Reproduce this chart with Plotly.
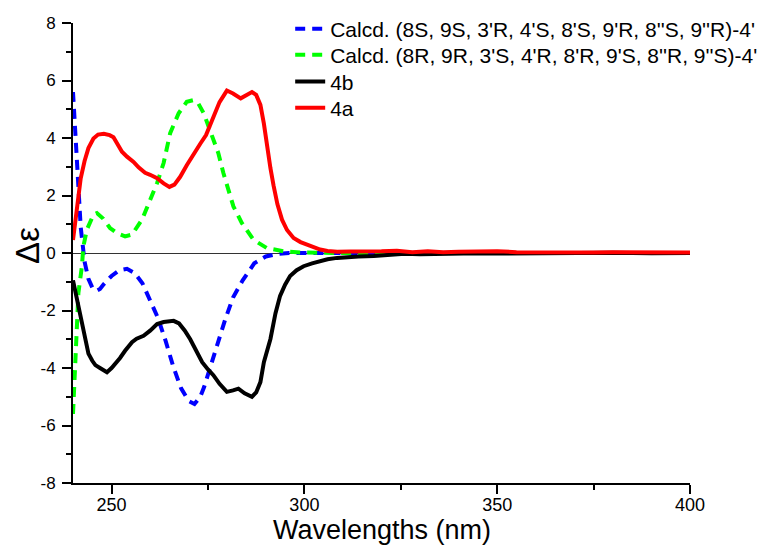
import plotly.graph_objects as go

# Calcd. (8S, 9S, ...) - blue dashed
blue_x = [240, 240.5, 241, 241.5, 242, 243, 244, 245, 246, 247, 248, 250, 252, 254, 256, 258, 260, 262, 264, 266,
          268, 270, 271.5, 273, 274, 275.5, 277, 279.5, 281.5, 284, 287, 290, 293, 296, 300, 320, 350, 400]
blue_y = [5.6, 4.3, 3.0, 1.9, 0.9, -0.3, -0.9, -1.2, -1.32, -1.25, -1.08, -0.8, -0.6, -0.55, -0.7, -1.05, -1.67, -2.25,
          -3.05, -3.95, -4.7, -5.15, -5.25, -5.0, -4.66, -4.0, -3.3, -2.3, -1.55, -0.95, -0.36, -0.12, -0.03, 0.0, 0.0,
          0.0, 0.0, 0.0]

# Calcd. (8R, 9R, ...) - green dashed
green_x = [240, 240.6, 241, 241.4, 242.3, 242.7, 243.6, 245.3, 246.2, 247.8, 249.6, 251.5, 253.5, 255.3, 257.9, 260,
           261.8, 263.5, 265.2, 267.4, 269.5, 271.3, 272.5, 273.9, 276.0, 277.7, 279.0, 280.3, 281.6, 283.8, 286.8,
           290.3, 294.6, 299, 310, 350, 400]
green_y = [-5.6, -3.94, -2.2, -1.39, -0.47, 0.23, 0.81, 1.33, 1.39, 1.2, 0.87, 0.68, 0.58, 0.64, 1.16, 1.85, 2.43, 3.13,
           4.17, 4.86, 5.26, 5.32, 5.2, 4.86, 4.05, 3.47, 2.78, 2.2, 1.62, 1.04, 0.46, 0.17, 0.06, 0.02, 0.0, 0.0, 0.0]

# 4b - black solid
black_x = [240, 241, 242, 243, 244, 245, 245.8, 247, 248, 248.8, 250, 251, 252.2, 253.5, 255.3, 256.5, 258.3, 260,
           261.8, 263.5, 266.1, 267.5, 269, 270.4, 272, 273.5, 275, 276.4, 278, 279.9, 281.5, 282.9, 284.5, 286.4,
           287.5, 288.6, 289.5, 291.2, 292.5, 293.7, 295, 296.3, 298, 299.8, 302, 304.1, 306, 308.5, 310, 314, 318,
           322, 326, 330, 335, 340, 345, 350, 355, 360, 370, 380, 390, 400]
black_y = [-0.95, -1.6, -2.25, -2.95, -3.5, -3.75, -3.9, -4.0, -4.1, -4.15, -4.0, -3.85, -3.65, -3.4, -3.1, -2.98,
           -2.88, -2.7, -2.47, -2.4, -2.36, -2.45, -2.7, -3.0, -3.4, -3.8, -4.05, -4.25, -4.55, -4.83, -4.78, -4.72,
           -4.88, -5.0, -4.85, -4.49, -3.8, -2.99, -2.1, -1.49, -1.1, -0.8, -0.6, -0.46, -0.36, -0.28, -0.22, -0.17,
           -0.15, -0.12, -0.1, -0.06, -0.03, -0.04, -0.02, -0.03, -0.01, -0.02, -0.01, 0.0, -0.01, 0.01, -0.01, 0.0]

# 4a - red solid
red_x = [240, 241, 242, 243, 244, 245.3, 246.5, 248, 249.5, 250.5, 251.5, 252.7, 254, 255.7, 257, 258.7, 260, 261.8,
         263.5, 265, 266.3, 267.8, 269.5, 271.3, 273, 274.5, 276.4, 278, 279.9, 281.5, 283.5, 285, 286.4, 287.5,
         288.6, 289.5, 290.3, 291.2, 292, 293, 294.2, 295.5, 297.2, 299, 300.7, 302.5, 304.1, 306, 308.5, 312, 316,
         320, 324, 328, 332, 336, 340, 345, 350, 355, 360, 365, 370, 375, 380, 385, 390, 395, 400]
red_y = [0.45, 1.5, 2.6, 3.2, 3.65, 3.98, 4.12, 4.15, 4.1, 4.03, 3.8, 3.52, 3.35, 3.17, 2.98, 2.79, 2.72, 2.6, 2.42,
         2.3, 2.38, 2.65, 3.05, 3.46, 3.8, 4.1, 4.75, 5.25, 5.65, 5.55, 5.38, 5.5, 5.6, 5.5, 5.15, 4.5, 3.7, 2.95,
         2.35, 1.7, 1.16, 0.8, 0.52, 0.38, 0.29, 0.2, 0.12, 0.07, 0.04, 0.05, 0.04, 0.06, 0.08, 0.03, 0.06, 0.03,
         0.04, 0.05, 0.06, 0.03, 0.02, 0.02, 0.0, 0.02, 0.03, 0.02, 0.04, 0.02, 0.02]

names = ["Calcd. (8S, 9S, 3'R, 4'S, 8'S, 9'R, 8''S, 9''R)-4'",
         "Calcd. (8R, 9R, 3'S, 4'R, 8'R, 9'S, 8''R, 9''S)-4'",
         "4b", "4a"]

x_ticks = [250, 300, 350, 400]
x_ticktext = ["250", "300", "350", "400"]
y_ticks = [-8, -6, -4, -2, 0, 2, 4, 6, 8]
y_ticktext = ["-8", "-6", "-4", "-2", "0", "2", "4", "6", "8"]

x_title = "Wavelengths (nm)"
y_title = "Δε"

font_family = "Arial, Liberation Sans, sans-serif"

fig = go.Figure()
fig.add_trace(go.Scatter(x=blue_x, y=blue_y, mode="lines", name=names[0], legend="legend",
                         line=dict(color="#0000FF", width=4, dash="10px,7px")))
fig.add_trace(go.Scatter(x=green_x, y=green_y, mode="lines", name=names[1], legend="legend2",
                         line=dict(color="#00FF00", width=4, dash="10px,7px")))
fig.add_trace(go.Scatter(x=black_x, y=black_y, mode="lines", name=names[2], legend="legend3",
                         line=dict(color="#000000", width=4)))
fig.add_trace(go.Scatter(x=red_x, y=red_y, mode="lines", name=names[3], legend="legend4",
                         line=dict(color="#FF0000", width=4)))


def leg(ypos):
    return dict(x=0.352, y=ypos, xanchor="left", yanchor="middle",
                font=dict(size=21, family=font_family, color="black"),
                bgcolor="rgba(0,0,0,0)", itemwidth=30)


fig.update_layout(
    width=765, height=539, autosize=False,
    margin=dict(l=65, r=83, t=15, b=64, autoexpand=False),
    paper_bgcolor="white", plot_bgcolor="white",
    font=dict(family=font_family, color="black"),
    showlegend=True,
    legend=leg(0.987), legend2=leg(0.930), legend3=leg(0.872), legend4=leg(0.815),
    xaxis=dict(range=[240, 400], tickvals=x_ticks, ticktext=x_ticktext, automargin=False,
               showline=True, linecolor="black", linewidth=2, mirror=False,
               ticks="outside", ticklen=9, tickwidth=1.5, tickcolor="black",
               minor=dict(dtick=25, tick0=250, ticks="outside", ticklen=5, tickwidth=1.5, tickcolor="black"),
               showgrid=False, zeroline=False, ticklabelstandoff=-5,
               tickfont=dict(size=18, family=font_family, color="black")),
    yaxis=dict(range=[-8, 8], tickvals=y_ticks, ticktext=y_ticktext, automargin=False,
               showline=True, linecolor="black", linewidth=2, mirror=False,
               ticks="outside", ticklen=9, tickwidth=1.5, tickcolor="black",
               minor=dict(dtick=1, tick0=0, ticks="outside", ticklen=5, tickwidth=1.5, tickcolor="black"),
               showgrid=False, zeroline=True, zerolinecolor="#333333", zerolinewidth=1,
               ticklabelstandoff=3,
               tickfont=dict(size=17, family=font_family, color="black")),
    annotations=[
        dict(text=x_title, xref="paper", yref="paper", x=0.5, y=-0.102, xanchor="center", yanchor="middle",
             showarrow=False, font=dict(size=27, family=font_family, color="black")),
        dict(text=y_title, xref="paper", yref="paper", x=-0.075, y=0.517, xanchor="center", yanchor="middle",
             textangle=-90, showarrow=False, font=dict(size=33, family=font_family, color="black")),
    ],
)

fig.write_html("out.html")
